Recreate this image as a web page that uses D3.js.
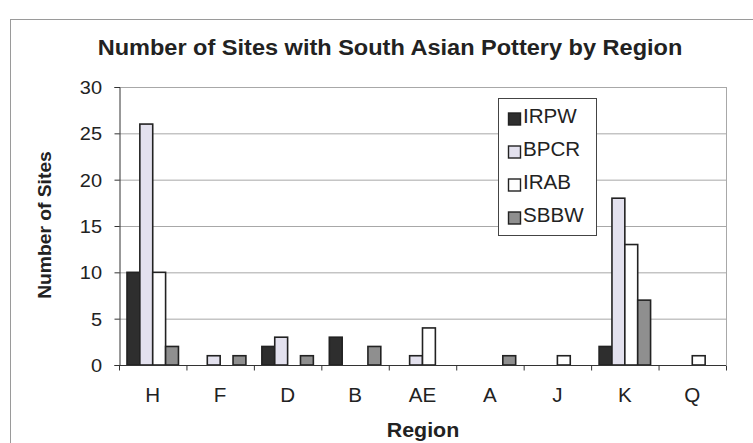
<!DOCTYPE html>
<html>
<head>
<meta charset="utf-8">
<script src="https://cdn.jsdelivr.net/npm/d3@7"></script>
<style>
  body { margin: 0; background: #fff; }
  svg { display: block; font-family: "Liberation Sans", Arial, sans-serif; }
</style>
</head>
<body>
<div id="chart"></div>
<script>
var regions = ['H', 'F', 'D', 'B', 'AE', 'A', 'J', 'K', 'Q'];
var seriesNames = ['IRPW', 'BPCR', 'IRAB', 'SBBW'];
var irpw = [10, 0, 2, 3, 0, 0, 0, 2, 0];
var bpcr = [26, 1, 3, 0, 1, 0, 0, 18, 0];
var irab = [10, 0, 0, 0, 4, 0, 1, 13, 1];
var sbbw = [2, 1, 1, 2, 0, 1, 0, 7, 0];
var yTicks = [0, 5, 10, 15, 20, 25, 30];

var seriesValues = [irpw, bpcr, irab, sbbw];
var colors = { IRPW: '#2e2e2e', BPCR: '#e3e1ee', IRAB: '#ffffff', SBBW: '#8f8f8f' };

var W = 753, H = 443;
var plot = { left: 119, right: 726, top: 87, bottom: 365 };

var svg = d3.select('#chart').append('svg')
  .attr('width', W)
  .attr('height', H);

// place a text at x,y, slightly stretched sideways like the scan
var stretchedText = (g, x, y, txt, size, opts) => {
  opts = opts || {};
  var t = g.append('text')
    .attr('transform', 'translate(' + x + ',' + y + ')' + (opts.rotate ? ' rotate(' + opts.rotate + ')' : '') + ' scale(' + (opts.sx || 1) + ',1)')
    .attr('text-anchor', opts.anchor || 'middle')
    .attr('font-size', size)
    .attr('fill', '#222')
    .text(txt);
  if (opts.bold) t.attr('font-weight', 'bold');
  return t;
};

// outer chart border
svg.append('rect')
  .attr('x', 10.5).attr('y', 19.5)
  .attr('width', 760).attr('height', 440)
  .attr('fill', 'none')
  .attr('stroke', '#9a9a9a')
  .attr('stroke-width', 1);

var x = d3.scaleBand().domain(regions).range([plot.left, plot.right]).padding(0);
var xs = d3.scaleBand().domain(seriesNames).range([0, x.bandwidth()])
  .paddingInner(0).paddingOuter(0.62);
var y = d3.scaleLinear().domain([0, 30]).range([plot.bottom, plot.top]);

// gridlines
svg.append('g')
  .selectAll('line')
  .data(yTicks.filter(d => d > 0))
  .join('line')
  .attr('x1', plot.left).attr('x2', plot.right)
  .attr('y1', d => y(d) + 0.5).attr('y2', d => y(d) + 0.5)
  .attr('stroke', '#a8a8a8')
  .attr('stroke-width', 1);

// right border of plot area
svg.append('line')
  .attr('x1', plot.right + 0.5).attr('x2', plot.right + 0.5)
  .attr('y1', plot.top).attr('y2', plot.bottom)
  .attr('stroke', '#a8a8a8');

// bars
var rows = [];
regions.forEach(function(r, i) {
  seriesNames.forEach(function(s, j) {
    rows.push({ region: r, series: s, value: seriesValues[j][i] });
  });
});

svg.append('g')
  .selectAll('rect')
  .data(rows.filter(d => d.value > 0))
  .join('rect')
  .attr('x', d => x(d.region) + xs(d.series))
  .attr('y', d => y(d.value))
  .attr('width', xs.bandwidth())
  .attr('height', d => y(0) - y(d.value))
  .attr('fill', d => colors[d.series])
  .attr('stroke', '#222')
  .attr('stroke-width', 1.6);

// y axis
var yAxis = svg.append('g')
  .attr('transform', 'translate(' + (plot.left + 0.5) + ',0)')
  .call(d3.axisLeft(y).tickValues(yTicks).tickSize(5).tickFormat(''));
yAxis.select('.domain').attr('stroke', '#333');
yAxis.selectAll('.tick line').attr('stroke', '#333');
var yLab = svg.append('g');
yTicks.forEach(function(t) {
  stretchedText(yLab, 102, y(t) + 7, t, 19, { anchor: 'end', sx: 1.05 });
});

// x axis with ticks at category boundaries
var xAxisG = svg.append('g')
  .attr('transform', 'translate(0,' + (plot.bottom + 0.5) + ')');
xAxisG.append('line')
  .attr('x1', plot.left).attr('x2', plot.right)
  .attr('stroke', '#333');
xAxisG.selectAll('line.tk')
  .data(regions.concat(['end']))
  .join('line')
  .attr('class', 'tk')
  .attr('x1', (d, i) => plot.left + i * x.step() + 0.5)
  .attr('x2', (d, i) => plot.left + i * x.step() + 0.5)
  .attr('y1', 0).attr('y2', 5)
  .attr('stroke', '#333');
var xLab = svg.append('g');
regions.forEach(function(r) {
  stretchedText(xLab, x(r) + x.bandwidth() / 2, 402, r, 20, { sx: 1.03 });
});

// title
stretchedText(svg, 390, 55, 'Number of Sites with South Asian Pottery by Region', 22, { bold: true, sx: 1.07 });

// axis titles
stretchedText(svg, 51, 225, 'Number of Sites', 18, { bold: true, rotate: -90, sx: 1.07 });
stretchedText(svg, 423, 437, 'Region', 20, { bold: true, sx: 1.07 });

// legend
var legend = svg.append('g').attr('transform', 'translate(498,98)');
legend.append('rect')
  .attr('x', 0.5).attr('y', 0.5)
  .attr('width', 98).attr('height', 137)
  .attr('fill', '#fff')
  .attr('stroke', '#444');
var li = legend.selectAll('g.item')
  .data(seriesNames)
  .join('g')
  .attr('class', 'item')
  .attr('transform', (d, i) => 'translate(9,' + (25 + i * 33) + ')');
li.append('rect')
  .attr('x', 1.5).attr('y', -10)
  .attr('width', 12).attr('height', 12)
  .attr('fill', d => colors[d])
  .attr('stroke', '#222')
  .attr('stroke-width', 1.4);
li.each(function(d) {
  stretchedText(d3.select(this), 16, 0, d, 20, { anchor: 'start', sx: 1.03 });
});
</script>
</body>
</html>
